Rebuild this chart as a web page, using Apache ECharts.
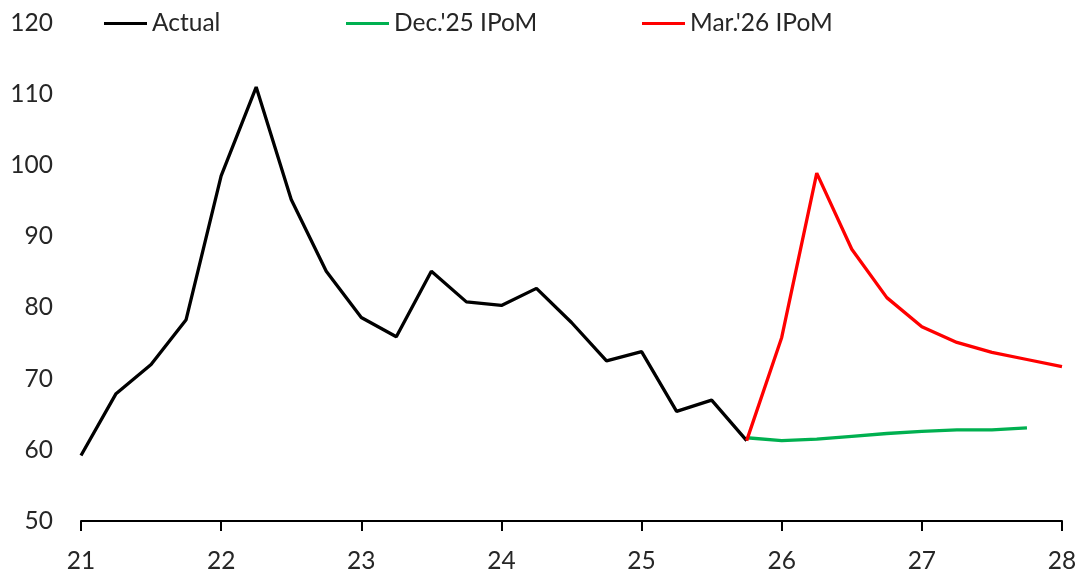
<!DOCTYPE html>
<html><head><meta charset="utf-8">
<script src="https://cdn.jsdelivr.net/npm/echarts@6/dist/echarts.min.js"></script>
<style>html,body{margin:0;padding:0;background:#fff}#c{width:1084px;height:576px}</style>
</head><body><div id="c"></div>
<script>
const actualX = [21,21.25,21.5,21.75,22,22.25,22.5,22.75,23,23.25,23.5,23.75,24,24.25,24.5,24.75,25,25.25,25.5,25.75];
const actualY = [59.2,67.9,72.0,78.3,98.5,111.0,95.2,85.1,78.6,75.9,85.1,80.8,80.3,82.7,77.9,72.5,73.8,65.4,67.0,61.3];
const decX = [25.75,26,26.25,26.5,26.75,27,27.25,27.5,27.75];
const decY = [61.7,61.3,61.5,61.9,62.3,62.6,62.8,62.8,63.1];
const marX = [25.75,26,26.25,26.5,26.75,27,27.25,27.5,27.75,28];
const marY = [61.3,75.8,98.9,88.2,81.4,77.3,75.1,73.7,72.7,71.7];
const seriesNames = ['Actual', "Dec.'25 IPoM", "Mar.'26 IPoM"];
const colors = ['#000000', '#00b050', '#ff0000'];

const pair = (xs, ys) => xs.map((x, i) => [x, ys[i]]);
const font = 'Lato, "Open Sans", sans-serif';
const legendPos = [99, 341, 637];

const chart = echarts.init(document.getElementById('c'));
chart.setOption({
  animation: false,
  color: colors,
  grid: {left: 81, right: 22, top: 23, bottom: 55},
  legend: seriesNames.map((n, i) => ({
    data: [n], left: legendPos[i], top: 6, icon: 'rect', itemWidth: 43, itemHeight: 3,
    textStyle: {fontFamily: font, fontSize: 24.5, color: '#262626'}
  })),
  xAxis: {
    type: 'value', min: 21, max: 28, interval: 1,
    axisLine: {show: true, lineStyle: {color: '#000', width: 2}},
    axisTick: {show: true, length: 10, lineStyle: {color: '#000', width: 2}},
    axisLabel: {fontFamily: font, fontSize: 24.5, color: '#262626', margin: 28},
    splitLine: {show: false}
  },
  yAxis: {
    type: 'value', min: 50, max: 120, interval: 10,
    axisLine: {show: false}, axisTick: {show: false},
    axisLabel: {fontFamily: font, fontSize: 24.5, color: '#262626', margin: 28},
    splitLine: {show: false}
  },
  series: [
    {name: seriesNames[0], type: 'line', data: pair(actualX, actualY), showSymbol: false, lineStyle: {width: 3.3, color: colors[0]}, z: 3},
    {name: seriesNames[1], type: 'line', data: pair(decX, decY), showSymbol: false, lineStyle: {width: 3.3, color: colors[1]}, z: 2},
    {name: seriesNames[2], type: 'line', data: pair(marX, marY), showSymbol: false, lineStyle: {width: 3.3, color: colors[2]}, z: 4}
  ]
});
</script></body></html>
